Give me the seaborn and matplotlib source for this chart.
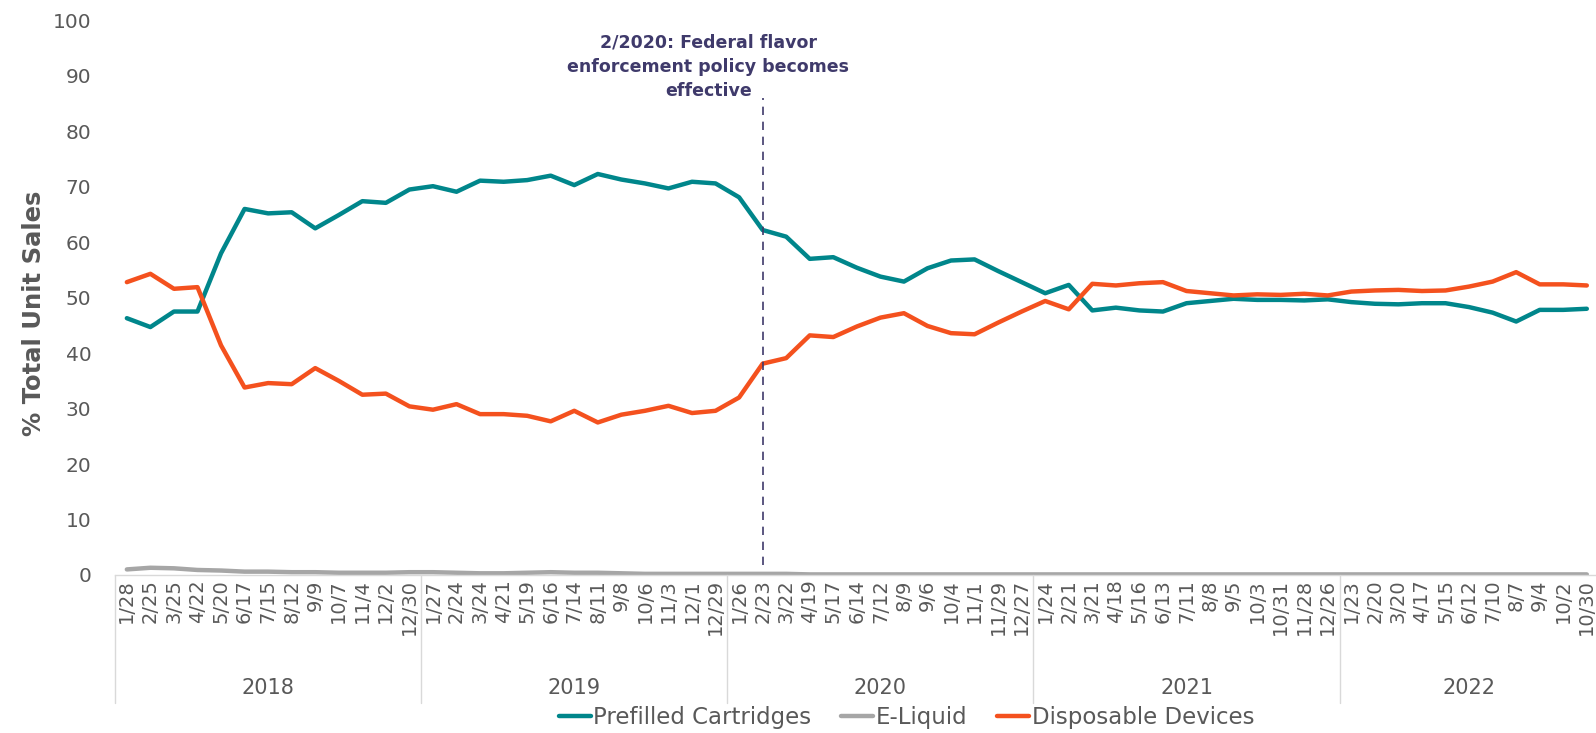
import matplotlib
matplotlib.use("Agg")
import numpy as np
import pandas as pd
import matplotlib.pyplot as plt
from matplotlib.lines import Line2D
import seaborn as sns

# week-ending dates (4-week periods), grouped by year
weeks = ['1/28', '2/25', '3/25', '4/22', '5/20', '6/17', '7/15', '8/12', '9/9', '10/7', '11/4', '12/2', '12/30',
         '1/27', '2/24', '3/24', '4/21', '5/19', '6/16', '7/14', '8/11', '9/8', '10/6', '11/3', '12/1', '12/29',
         '1/26', '2/23', '3/22', '4/19', '5/17', '6/14', '7/12', '8/9', '9/6', '10/4', '11/1', '11/29', '12/27',
         '1/24', '2/21', '3/21', '4/18', '5/16', '6/13', '7/11', '8/8', '9/5', '10/3', '10/31', '11/28', '12/26',
         '1/23', '2/20', '3/20', '4/17', '5/15', '6/12', '7/10', '8/7', '9/4', '10/2', '10/30']
years = ['2018', '2019', '2020', '2021', '2022']
weeks_per_year = [13, 13, 13, 13, 11]

prefilled = [46.3, 44.7, 47.5, 47.5, 58.0, 66.0, 65.2, 65.4, 62.5, 64.9, 67.4, 67.1, 69.5,
             70.1, 69.1, 71.1, 70.9, 71.2, 72.0, 70.3, 72.3, 71.3, 70.6, 69.7, 70.9, 70.6, 68.1,
             62.2, 61.0, 57.0, 57.3, 55.4, 53.8, 52.9, 55.3, 56.7, 56.9, 54.8, 52.8, 50.8,
             52.3, 47.7, 48.2, 47.7, 47.5, 49.0, 49.4, 49.8, 49.6, 49.6, 49.5, 49.7, 49.2,
             48.9, 48.8, 49.0, 49.0, 48.3, 47.3, 45.7, 47.8, 47.8, 48.0]
eliquid = [1.0, 1.3, 1.2, 0.9, 0.8, 0.6, 0.6, 0.5, 0.5, 0.4, 0.4, 0.4, 0.5,
           0.5, 0.4, 0.3, 0.3, 0.4, 0.5, 0.4, 0.4, 0.3, 0.2, 0.2, 0.2, 0.2, 0.2,
           0.2, 0.2, 0.1, 0.1, 0.1, 0.1, 0.1, 0.1, 0.1, 0.1, 0.1, 0.1, 0.1,
           0.1, 0.1, 0.1, 0.1, 0.1, 0.1, 0.1, 0.1, 0.1, 0.1, 0.1, 0.1, 0.1,
           0.1, 0.1, 0.1, 0.1, 0.1, 0.1, 0.1, 0.1, 0.1, 0.1]
disposable = [52.8, 54.3, 51.6, 51.9, 41.4, 33.8, 34.6, 34.4, 37.3, 35.0, 32.5, 32.7, 30.4,
              29.8, 30.8, 29.0, 29.0, 28.7, 27.7, 29.6, 27.5, 28.9, 29.6, 30.5, 29.2, 29.6, 32.0,
              38.1, 39.1, 43.2, 42.9, 44.8, 46.4, 47.2, 44.9, 43.6, 43.4, 45.5, 47.5, 49.4,
              47.9, 52.5, 52.2, 52.6, 52.8, 51.2, 50.8, 50.4, 50.6, 50.5, 50.7, 50.4, 51.1,
              51.3, 51.4, 51.2, 51.3, 52.0, 52.9, 54.6, 52.4, 52.4, 52.2]

series_names = ['Prefilled Cartridges', 'E-Liquid', 'Disposable Devices']
series_colors = ['#00868B', '#A6A6A6', '#F4511E']
policy_week = 27  # 2/23/2020

df = pd.DataFrame({'idx': range(len(weeks)),
                   'Prefilled Cartridges': prefilled,
                   'E-Liquid': eliquid,
                   'Disposable Devices': disposable})
long_df = df.melt(id_vars='idx', var_name='type', value_name='share')

sns.set_style("white")
plt.rcParams['font.family'] = ['DejaVu Sans']
txt = '#595959'

fig = plt.figure(figsize=(15.96, 7.33), dpi=100)
ax = fig.add_axes([0.0721, 0.2156, 0.9279, 0.7566])

sns.lineplot(data=long_df, x='idx', y='share', hue='type', hue_order=series_names,
             palette=dict(zip(series_names, series_colors)), linewidth=3.2,
             sort=False, legend=False, ax=ax)

ax.set_xlim(-0.5, 62.39)
ax.set_ylim(0, 100)
ax.set_yticks(range(0, 101, 10))
ax.set_xticks(range(len(weeks)))
ax.set_xticklabels(weeks, rotation=90, fontsize=14, color=txt)
ax.tick_params(axis='x', length=0, pad=3)
ax.tick_params(axis='y', length=0, pad=17, labelsize=14.5, labelcolor=txt)
ax.set_xlabel('')
ax.set_ylabel('')
for s in ['left', 'top', 'right']:
    ax.spines[s].set_visible(False)
ax.spines['bottom'].set_color('#D9D9D9')
ax.spines['bottom'].set_linewidth(1)

# year group boxes under the axis
trans = ax.get_xaxis_transform()
start = 0
for yr, n in zip(years, weeks_per_year):
    ax.plot([start - 0.5, start - 0.5], [0, -0.23], transform=trans, color='#D9D9D9',
            lw=1, clip_on=False)
    ax.text(start + (n - 1) / 2, -0.204, yr, transform=trans, ha='center', va='center',
            fontsize=15, color=txt)
    start += n

# policy marker
ax.vlines(policy_week, 1.8, 86, colors='#3F3A6B', linestyles=(0, (5, 4)), lw=1.2)
ax.text(24.7, 91.6, '2/2020: Federal flavor\nenforcement policy becomes\neffective',
        ha='center', va='center', multialignment='center', fontsize=12.5,
        fontweight='bold', color='#3F3A6B', linespacing=1.45)

fig.text(0.021, 0.572, '% Total Unit Sales', rotation=90, ha='center', va='center',
         fontsize=17.5, fontweight='bold', color=txt)

handles = [Line2D([0], [0], color=c, lw=3.2) for c in series_colors]
leg = fig.legend(handles, series_names, loc='center', bbox_to_anchor=(0.568, 0.021),
                 ncol=3, frameon=False, fontsize=16.5, handlelength=1.4, handletextpad=0.1,
                 columnspacing=1.3, labelcolor=txt)

fig.savefig('out.png', dpi=100)
